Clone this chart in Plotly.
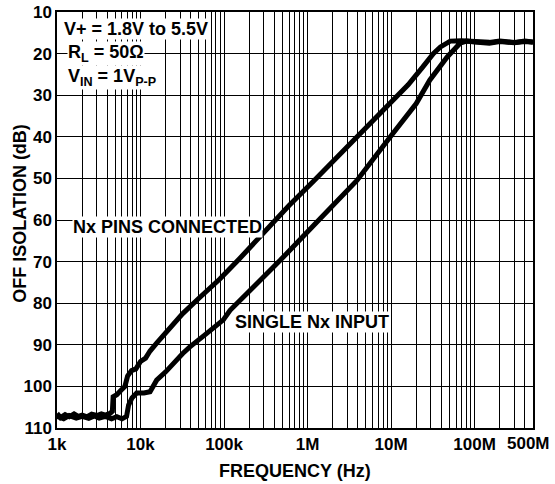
import math
import plotly.graph_objects as go

# ---- data ----
freq_connected = [1.0e3, 1.1e3, 1.25e3, 1.4e3, 1.6e3, 1.8e3, 2.0e3, 2.3e3, 2.6e3, 3.0e3, 3.4e3, 3.8e3,
                  4.3e3, 4.6e3, 4.7e3, 5.2e3, 5.8e3, 6.5e3, 7.0e3, 7.8e3, 8.8e3, 1.0e4, 1.15e4, 1.3e4,
                  1.56e4, 2.0e4, 3.2e4, 5.0e4, 8.9e4, 1.5e5, 2.95e5, 6.0e5, 1.2e6, 2.7e6, 3.9e6, 9.8e6,
                  1.6e7, 2.4e7, 3.2e7, 3.9e7, 5.1e7, 7.0e7, 1.0e8, 1.5e8, 2.0e8, 3.0e8, 4.0e8, 5.0e8]
iso_connected = [106.5, 107.5, 106.8, 107.3, 106.6, 107.2, 106.9, 107.3, 106.7, 107.0, 106.6, 106.9,
                 106.5, 106.0, 102.5, 102.0, 101.0, 100.0, 97.5, 96.2, 95.8, 94.0, 93.2, 91.5,
                 89.6, 87.2, 82.5, 78.8, 74.2, 69.5, 63.2, 56.5, 50.5, 43.3, 40.0, 32.0,
                 27.5, 23.2, 20.0, 18.4, 17.0, 16.9, 17.1, 17.3, 17.0, 17.3, 17.0, 17.2]

freq_single = [1.0e3, 1.2e3, 1.4e3, 1.7e3, 2.0e3, 2.4e3, 2.8e3, 3.2e3, 3.8e3, 4.5e3, 5.2e3, 6.0e3,
               6.8e3, 7.2e3, 7.9e3, 9.0e3, 1.1e4, 1.3e4, 1.56e4, 2.0e4, 3.2e4, 3.9e4, 6.0e4, 9.8e4,
               1.18e5, 2.05e5, 4.7e5, 1.0e6, 2.0e6, 3.9e6, 9.8e6, 2.0e7, 2.9e7, 4.7e7, 6.7e7, 8.0e7,
               1.0e8, 1.5e8, 2.0e8, 3.0e8, 4.0e8, 5.0e8]
iso_single = [107.2, 107.8, 107.0, 107.6, 107.2, 107.7, 107.1, 107.6, 107.2, 107.8, 107.3, 107.8,
              107.2, 104.5, 102.8, 101.6, 101.6, 101.3, 98.5, 96.5, 92.1, 90.5, 87.5, 84.0,
              81.7, 77.0, 69.7, 62.8, 56.5, 50.5, 40.0, 32.0, 26.4, 20.8, 17.5, 17.0,
              17.2, 17.5, 17.1, 17.4, 17.1, 17.3]

x_minor_grid = [m * 10 ** e for e in range(3, 8) for m in range(2, 10)] + [2e8, 3e8, 4e8]
x_label_vals = [1e3, 1e4, 1e5, 1e6, 1e7, 1e8]
x_label_text = ["1k", "10k", "100k", "1M", "10M", "100M"]
x_end_label = "500M"
x_max = 5e8
y_tick_vals = [10, 20, 30, 40, 50, 60, 70, 80, 90, 100, 110]

FONT = "Liberation Sans, Arial, Helvetica, sans-serif"

fig = go.Figure()
fig.add_trace(go.Scatter(x=freq_connected, y=iso_connected, mode="lines",
                         line=dict(color="black", width=5), showlegend=False))
fig.add_trace(go.Scatter(x=freq_single, y=iso_single, mode="lines",
                         line=dict(color="black", width=5), showlegend=False))

fig.update_layout(
    width=555, height=484,
    margin=dict(l=57, r=22, t=12, b=56, autoexpand=False),
    paper_bgcolor="white", plot_bgcolor="white",
    font=dict(family=FONT, size=16, color="black", weight="bold"),
)
fig.update_xaxes(type="log", range=[3, math.log10(x_max)],
                 tickvals=x_label_vals, ticktext=x_label_text,
                 minor=dict(tickvals=x_minor_grid, showgrid=True, gridcolor="black",
                            gridwidth=1, ticks=""),
                 showgrid=True, gridcolor="black", gridwidth=1, automargin=False,
                 showline=True, linecolor="black", linewidth=1.5, mirror=True,
                 ticks="", tickfont=dict(size=17), zeroline=False)
fig.update_yaxes(range=[110, 10], tickvals=y_tick_vals, automargin=False,
                 showgrid=True, gridcolor="black", gridwidth=1,
                 showline=True, linecolor="black", linewidth=1.5, mirror=True,
                 ticks="", tickfont=dict(size=17), zeroline=False)

fig.add_annotation(x=math.log10(x_max), y=0, xref="x", yref="paper", yanchor="top", xanchor="center",
                   text=x_end_label, showarrow=False, xshift=-5, yshift=-4,
                   font=dict(size=17))

fig.add_annotation(x=0.5, y=-0.074, xref="paper", yref="paper", text="FREQUENCY (Hz)",
                   showarrow=False, xanchor="center", yanchor="top", font=dict(size=18))
fig.add_annotation(x=-0.0777, y=0.515, xref="paper", yref="paper", text="OFF ISOLATION (dB)",
                   showarrow=False, textangle=-90, xanchor="center", yanchor="middle",
                   font=dict(size=18))

notes = [
    ("V+ = 1.8V to 5.5V", 0.012, 29),
    ("R<sub>L</sub> = 50Ω", 0.022, 53),
    ("V<sub>IN</sub> = 1V<sub>P-P</sub>", 0.022, 77),
]
for txt, px, py in notes:
    fig.add_annotation(x=px, y=1 - (py - 11.7) / 416.3, xref="paper", yref="paper", text=txt,
                       showarrow=False, xanchor="left", yanchor="middle",
                       bgcolor="white", borderpad=0, font=dict(size=18))

fig.add_annotation(x=math.log10(1.51e3), y=61.8, text="Nx PINS CONNECTED", showarrow=False,
                   xanchor="left", yanchor="middle", bgcolor="white", borderpad=0,
                   font=dict(size=18))
fig.add_annotation(x=math.log10(1.33e5), y=84.4, text="SINGLE Nx INPUT", showarrow=False,
                   xanchor="left", yanchor="middle", bgcolor="white", borderpad=0,
                   font=dict(size=18))

fig.write_html("out.html", config={"displayModeBar": False},
               post_script="document.body.style.margin='0';")
